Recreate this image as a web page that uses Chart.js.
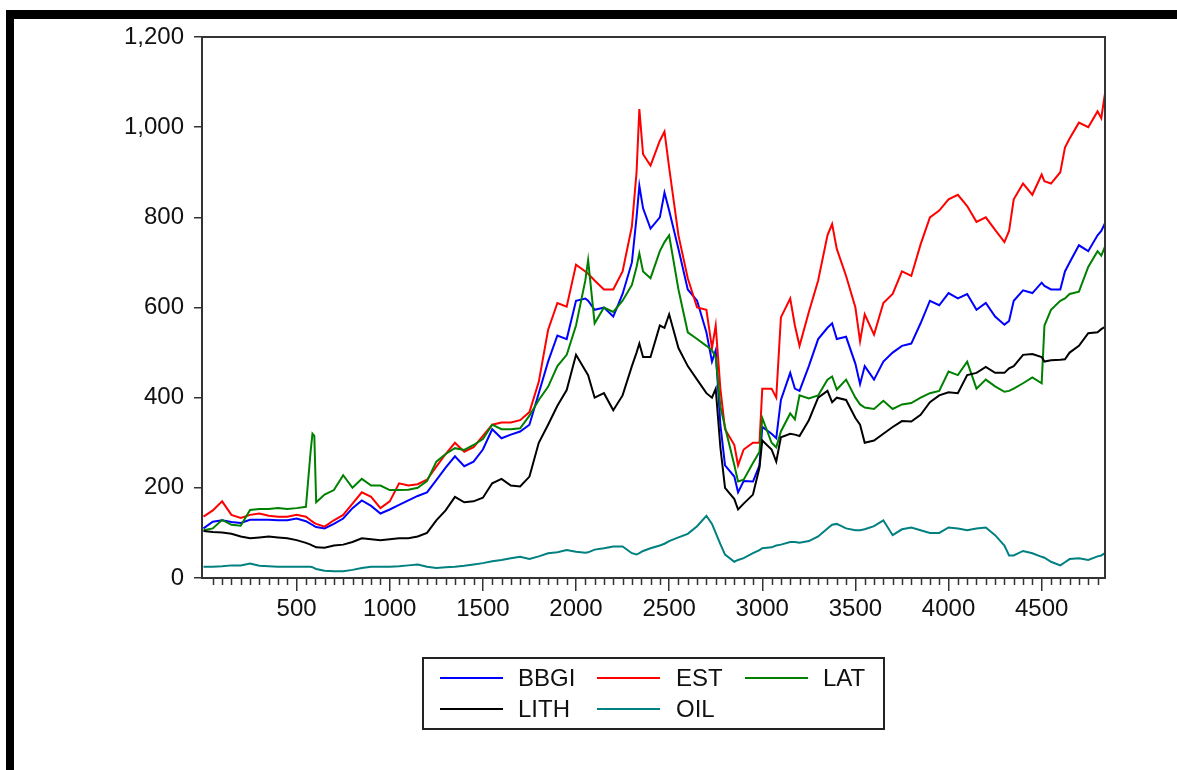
<!DOCTYPE html>
<html>
<head>
<meta charset="utf-8">
<script src="https://cdn.jsdelivr.net/npm/chart.js@4.4.1/dist/chart.umd.min.js"></script>
<style>
  html, body { margin: 0; padding: 0; background: #fff; }
  #wrap { width: 1177px; height: 770px; position: relative; }
</style>
</head>
<body>
<div id="wrap"><canvas id="c" width="1177" height="770"></canvas></div>
<script>
// ---- data ----
const X = [0,50,100,150,200,250,300,350,400,450,500,550,575,585,595,605,650,700,750,800,850,900,950,1000,1050,1100,1150,1200,1250,1300,1350,1400,1450,1500,1550,1600,1650,1700,1750,1800,1850,1900,1950,2000,2050,2065,2100,2150,2200,2250,2300,2325,2340,2360,2400,2450,2475,2500,2550,2600,2650,2700,2730,2750,2775,2800,2850,2870,2900,2950,2985,3000,3050,3075,3100,3150,3175,3200,3250,3300,3350,3375,3400,3450,3500,3525,3550,3600,3650,3700,3750,3800,3850,3900,3950,4000,4050,4100,4150,4200,4250,4300,4325,4350,4400,4450,4500,4515,4550,4600,4625,4650,4700,4750,4800,4820,4840];

const BBGI = [110,125,128,124,122,129,129,129,128,128,132,126,120,118,115,113,110,120,132,155,172,160,143,152,162,172,182,190,217,245,270,248,258,285,330,310,318,325,340,410,480,538,530,615,620,615,595,600,580,630,700,800,870,820,775,800,855,815,730,640,615,545,480,505,340,250,225,190,215,214,250,335,320,310,395,455,420,415,470,530,555,565,530,535,475,430,470,440,480,500,515,520,565,615,605,632,620,630,595,610,580,562,570,615,638,632,655,648,640,640,680,700,738,725,760,770,787];

const EST = [136,150,170,140,133,140,143,138,136,136,140,136,128,125,122,120,114,128,140,165,190,180,155,170,210,205,208,218,247,275,300,280,290,315,340,345,345,350,368,435,550,610,602,695,680,675,660,640,640,680,780,900,1040,940,915,970,990,910,760,665,600,595,510,560,420,330,295,250,285,300,300,420,420,400,578,620,560,515,590,660,760,785,730,670,600,525,585,540,610,630,680,670,740,800,815,840,850,825,790,800,772,745,770,840,875,850,895,880,875,900,955,975,1010,1000,1035,1020,1075];

const LAT = [106,110,129,118,116,151,153,153,155,153,155,158,280,320,315,168,185,195,228,200,220,205,205,195,195,196,200,215,258,275,288,284,295,308,340,330,330,332,360,395,424,470,495,560,660,705,565,600,590,615,650,690,720,680,665,725,745,760,640,545,530,515,505,490,380,335,250,214,218,255,280,355,300,290,325,365,352,405,398,405,440,447,418,440,400,385,378,375,393,375,385,388,400,410,415,458,450,480,420,440,425,413,415,420,432,445,432,560,595,615,620,630,635,690,725,715,735];

const LITH = [104,102,101,98,92,88,90,92,90,88,84,78,74,72,70,68,67,72,74,80,88,86,84,86,88,88,92,100,128,150,180,168,170,178,210,220,205,203,225,300,340,382,417,495,460,450,400,410,372,405,470,500,520,490,490,560,555,585,510,470,440,410,400,420,290,200,175,152,165,185,245,305,285,258,312,320,318,315,350,400,415,390,400,395,355,340,300,305,320,335,348,347,362,390,405,412,410,450,455,468,455,455,465,470,495,497,490,480,483,484,485,500,515,543,545,552,557];

const OIL = [25,25,26,28,28,32,27,26,25,25,25,25,25,24,22,20,16,15,15,18,22,25,25,25,26,28,30,25,22,24,25,27,30,33,37,40,44,47,42,48,55,57,62,58,56,57,63,66,70,70,55,52,55,60,66,72,76,82,90,98,115,138,120,100,75,52,36,40,44,55,62,66,68,72,74,80,80,78,82,92,110,118,120,110,106,106,108,115,128,95,108,112,106,100,100,112,110,106,110,112,95,72,50,50,60,55,47,45,36,28,35,42,44,40,48,50,55];

const SERIES_NAMES = ['BBGI', 'EST', 'LAT', 'LITH', 'OIL'];
const SERIES_VALUES = [BBGI, EST, LAT, LITH, OIL];
const SERIES_COLORS = ['#0000FF', '#FF0000', '#008000', '#000000', '#008080'];
const Y_TICKS = [0, 200, 400, 600, 800, 1000, 1200];
const X_TICKS = [500, 1000, 1500, 2000, 2500, 3000, 3500, 4000, 4500];
const X_MINOR_STEP = 50;

const FONT = '"Liberation Sans", Arial, sans-serif';

const datasets = SERIES_NAMES.map((name, i) => ({
  label: name,
  data: X.map((x, k) => ({ x: x, y: SERIES_VALUES[i][k] })),
  borderColor: SERIES_COLORS[i],
  backgroundColor: SERIES_COLORS[i],
  borderWidth: 2,
  pointRadius: 0,
  tension: 0,
  fill: false,
  order: SERIES_NAMES.length - i
}));

const framePlugin = {
  id: 'frame',
  beforeDraw(chart) {
    const ctx = chart.ctx;
    ctx.save();
    ctx.fillStyle = '#fff';
    ctx.fillRect(0, 0, chart.width, chart.height);
    ctx.fillStyle = '#000';
    ctx.fillRect(6, 10, chart.width - 6, 9);
    ctx.fillRect(6, 10, 8, chart.height - 10);
    ctx.restore();
  },
  afterDraw(chart) {
    const ctx = chart.ctx;
    const a = chart.chartArea;
    const xs = chart.scales.x;
    ctx.save();
    // minor ticks on x axis
    ctx.strokeStyle = '#333';
    ctx.lineWidth = 1.5;
    ctx.beginPath();
    for (let v = X_MINOR_STEP; v < xs.max; v += X_MINOR_STEP) {
      if (X_TICKS.includes(v)) continue;
      const px = Math.round(xs.getPixelForValue(v)) + 0.5;
      ctx.moveTo(px, a.bottom);
      ctx.lineTo(px, a.bottom + 7);
    }
    ctx.stroke();
    // plot box
    ctx.strokeStyle = '#333';
    ctx.lineWidth = 2;
    ctx.strokeRect(a.left, a.top, a.right - a.left, a.bottom - a.top);
    // legend
    const L = { x: 423, y: 658, w: 461, h: 71 };
    ctx.lineWidth = 2;
    ctx.strokeStyle = '#222';
    ctx.strokeRect(L.x, L.y, L.w, L.h);
    const slots = [
      { lx: 440, tx: 518, y: 678 },
      { lx: 597, tx: 676, y: 678 },
      { lx: 745, tx: 823, y: 678 },
      { lx: 440, tx: 518, y: 709 },
      { lx: 597, tx: 676, y: 709 }
    ];
    ctx.font = '24px ' + FONT;
    ctx.textBaseline = 'middle';
    ctx.textAlign = 'left';
    chart.data.datasets.forEach((ds, i) => {
      const s = slots[i];
      ctx.strokeStyle = ds.borderColor;
      ctx.lineWidth = 2;
      ctx.beginPath();
      ctx.moveTo(s.lx, s.y);
      ctx.lineTo(s.lx + 63, s.y);
      ctx.stroke();
      ctx.fillStyle = '#111';
      ctx.fillText(ds.label, s.tx, s.y + 1);
    });
    ctx.restore();
  }
};

new Chart(document.getElementById('c'), {
  type: 'line',
  data: { datasets: datasets },
  plugins: [framePlugin],
  options: {
    responsive: false,
    animation: false,
    events: [],
    layout: { padding: { left: 0, top: 37, right: 72, bottom: 0 } },
    plugins: { legend: { display: false }, tooltip: { enabled: false } },
    scales: {
      x: {
        type: 'linear',
        min: -8,
        max: 4840,
        afterBuildTicks(scale) { scale.ticks = X_TICKS.map(v => ({ value: v })); },
        afterFit(scale) { scale.height = 770 - 578; },
        ticks: {
          autoSkip: false,
          maxRotation: 0,
          padding: 4,
          color: '#111',
          font: { family: FONT, size: 24 },
          callback: v => String(v)
        },
        grid: { drawOnChartArea: false, drawTicks: true, tickLength: 13, color: '#333', tickWidth: 1.5, lineWidth: 1.5 },
        border: { display: false }
      },
      y: {
        type: 'linear',
        min: 0,
        max: 1200,
        afterBuildTicks(scale) { scale.ticks = Y_TICKS.map(v => ({ value: v })); },
        afterFit(scale) { scale.width = 202; },
        ticks: {
          autoSkip: false,
          padding: 10,
          color: '#111',
          font: { family: FONT, size: 24 },
          callback: v => v.toLocaleString('en-US')
        },
        grid: { drawOnChartArea: false, drawTicks: true, tickLength: 8, color: '#333', tickWidth: 1.5, lineWidth: 1.5 },
        border: { display: false }
      }
    }
  }
});
</script>
</body>
</html>
